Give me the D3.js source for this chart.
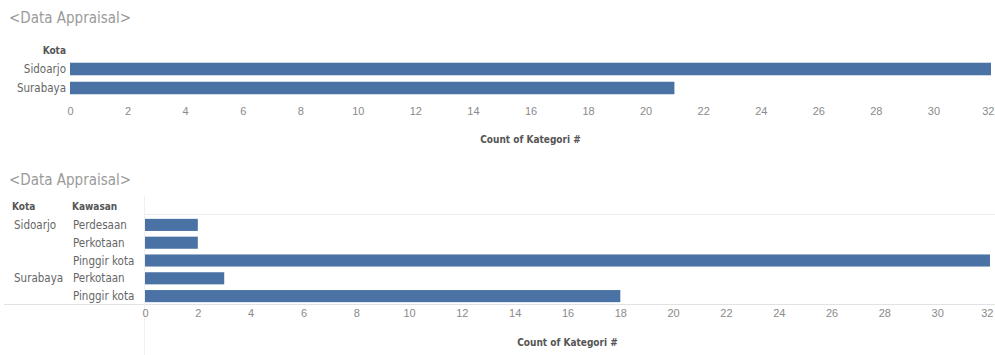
<!DOCTYPE html>
<html>
<head>
<meta charset="utf-8">
<script src="https://cdn.jsdelivr.net/npm/d3@7"></script>
<style>
  html, body { margin: 0; padding: 0; background: #fff; }
  svg { display: block; font-family: "Liberation Sans Narrow", "DejaVu Sans Condensed", "Roboto", sans-serif; }
</style>
</head>
<body>
<svg id="chart" width="995" height="355"></svg>
<script>
// Count of Kategori by Kota
const cities = ["Sidoarjo", "Surabaya"];
const cityCounts = [32, 21];

// Count of Kategori by Kota and Kawasan
const rowCities = ["Sidoarjo", "Sidoarjo", "Sidoarjo", "Surabaya", "Surabaya"];
const rowKawasan = ["Perdesaan", "Perkotaan", "Pinggir kota", "Perkotaan", "Pinggir kota"];
const rowCounts = [2, 2, 32, 3, 18];

const tickValues = d3.range(0, 33, 2);
const axisTitle = "Count of Kategori #";
const sheetTitle = "<Data Appraisal>";

const barColor = "#4a72a4";
const svg = d3.select("#chart");

function drawAxis(x, y, titleY) {
  const ax = svg.append("g")
    .attr("transform", `translate(0,${y})`)
    .call(d3.axisBottom(x).tickValues(tickValues).tickSize(0).tickPadding(0));
  ax.select(".domain").remove();
  ax.selectAll("text").attr("fill", "#8a8a8a").attr("font-size", 11);
  // keep the last label inside the view
  ax.selectAll(".tick").filter(d => d === tickValues[tickValues.length - 1])
    .select("text").attr("text-anchor", "end").attr("dx", 3);
  svg.append("text")
    .attr("x", (x.range()[0] + x.range()[1]) / 2)
    .attr("y", titleY)
    .attr("text-anchor", "middle")
    .attr("font-size", 10).attr("font-weight", "bold").attr("fill", "#555")
    .text(axisTitle);
}

// ---- Sheet 1 ----
svg.append("text").attr("x", 9).attr("y", 23)
  .attr("font-size", 15).attr("fill", "#9a9a9a").text(sheetTitle);

const x1 = d3.scaleLinear().domain([0, 32]).range([70, 991]).clamp(true);
const y1 = d3.scaleBand().domain(cities).range([59.5, 97.5]).paddingInner(0.34).paddingOuter(0.17);

svg.append("text").attr("x", 66).attr("y", 54).attr("text-anchor", "end")
  .attr("font-size", 10).attr("font-weight", "bold").attr("fill", "#555").text("Kota");

svg.append("g").selectAll("rect").data(cities).join("rect")
  .attr("x", x1(0))
  .attr("y", d => y1(d))
  .attr("width", (d, i) => x1(cityCounts[i]) - x1(0))
  .attr("height", y1.bandwidth())
  .attr("fill", barColor);

svg.append("g").selectAll("text").data(cities).join("text")
  .attr("x", 66)
  .attr("y", d => y1(d) + y1.bandwidth() / 2)
  .attr("dy", "0.35em")
  .attr("text-anchor", "end")
  .attr("font-size", 11.5).attr("fill", "#666")
  .text(d => d);

drawAxis(x1, 107, 143);

// ---- Sheet 2 ----
svg.append("text").attr("x", 9).attr("y", 185)
  .attr("font-size", 15).attr("fill", "#9a9a9a").text(sheetTitle);

const x2 = d3.scaleLinear().domain([0, 32]).range([145, 990]).clamp(true);
const rowIdx = d3.range(rowCounts.length);
const y2 = d3.scaleBand().domain(rowIdx).range([216, 305]).paddingInner(0.32).paddingOuter(0.16);

svg.append("text").attr("x", 12).attr("y", 210)
  .attr("font-size", 10).attr("font-weight", "bold").attr("fill", "#555").text("Kota");
svg.append("text").attr("x", 72).attr("y", 210)
  .attr("font-size", 10).attr("font-weight", "bold").attr("fill", "#555").text("Kawasan");

// faint frame lines of the table
svg.append("line").attr("x1", 145).attr("x2", 995).attr("y1", 214.5).attr("y2", 214.5)
  .attr("stroke", "#ececec");
svg.append("line").attr("x1", 4).attr("x2", 995).attr("y1", 304.5).attr("y2", 304.5)
  .attr("stroke", "#e2e2e2");
svg.append("line").attr("x1", 144.5).attr("x2", 144.5).attr("y1", 196).attr("y2", 355)
  .attr("stroke", "#f0f0f0");

svg.append("g").selectAll("rect").data(rowIdx).join("rect")
  .attr("x", x2(0))
  .attr("y", i => y2(i))
  .attr("width", i => x2(rowCounts[i]) - x2(0))
  .attr("height", y2.bandwidth())
  .attr("fill", barColor);

svg.append("g").selectAll("text").data(rowIdx).join("text")
  .attr("x", 73)
  .attr("y", i => y2(i) + y2.bandwidth() / 2)
  .attr("dy", "0.35em")
  .attr("font-size", 11.5).attr("fill", "#666")
  .text(i => rowKawasan[i]);

svg.append("g").selectAll("text").data(rowIdx.filter(i => i === 0 || rowCities[i] !== rowCities[i - 1])).join("text")
  .attr("x", 14)
  .attr("y", i => y2(i) + y2.bandwidth() / 2)
  .attr("dy", "0.35em")
  .attr("font-size", 11.5).attr("fill", "#666")
  .text(i => rowCities[i]);

drawAxis(x2, 309, 346);
</script>
</body>
</html>
